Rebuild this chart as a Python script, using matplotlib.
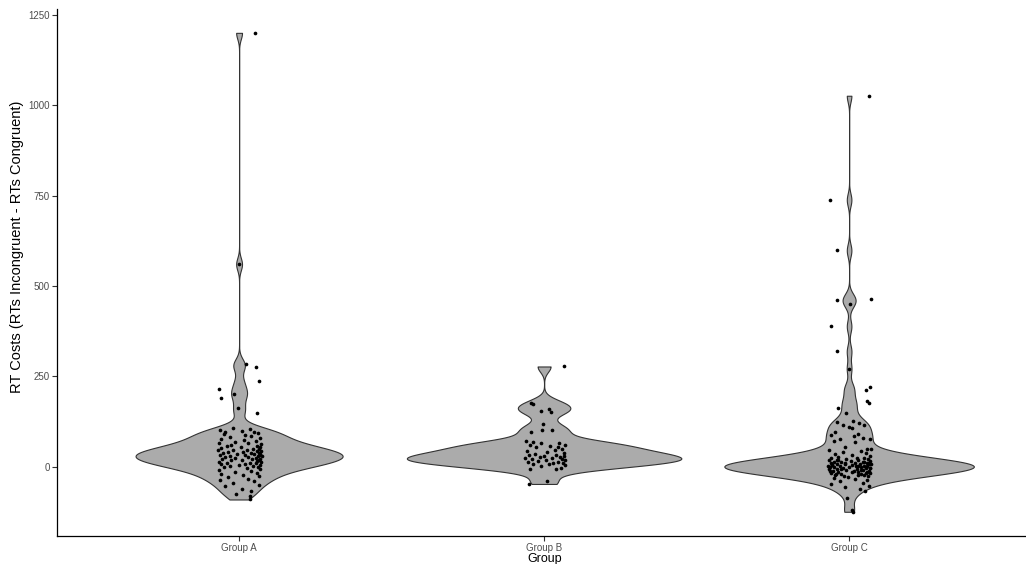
import numpy as np
import matplotlib
matplotlib.use('Agg')
import matplotlib.pyplot as plt

plt.rcParams['font.family'] = ['Liberation Sans', 'DejaVu Sans']

# kategori di sumbu x
groups = ['Group A', 'Group B', 'Group C']

# RT costs per peserta (ms)
rt_a = [1200, 560, 285, 276, 238, 216, 202, 191, 163, 149,
        108, 104, 101, 99, 97, 95, 92, 90, 88,
        85, 82, 78, 76, 73, 70, 68, 66, 64, 62, 61,
        58, 57, 55, 53, 52, 50, 48, 47, 46, 45,
        44, 42, 41, 40, 39, 38, 37, 36, 35, 34,
        33, 32, 31, 30, 29, 28, 27, 26, 25, 24,
        22, 21, 20, 19, 18, 17, 15, 14, 12, 11,
        10, 9, 8, 6, 5, 4, 3, 2, 0,
        -2, -4, -7, -9, -12, -15, -18, -20, -24, -27, -30,
        -33, -37, -41, -45, -50, -55, -62, -68, -75, -80, -91]

rt_b = [277, 176, 174, 160, 153, 152, 119, 102, 100, 95,
        70, 67, 65, 64, 61, 60, 58, 55, 54, 49,
        45, 42, 40, 38, 36, 33, 31, 30, 29, 27,
        26, 24, 23, 22, 20, 19, 17, 15, 14, 12,
        11, 10, 8, 6, 5, 2, -4, -6, -8, -39, -48]

rt_c = [1026, 738, 598, 465, 462, 451, 388, 319, 271, 219, 211, 181, 177, 161, 148,
        127, 124, 121, 116, 115, 109, 107,
        95, 91, 88, 86, 80, 77, 75, 70, 67,
        54, 49, 48, 45, 42, 40, 37, 34, 32, 29, 27, 25, 24, 23, 22, 21,
        19, 18, 17, 16, 15, 14, 13, 12, 11, 10, 10, 9, 8, 7, 6, 6, 5, 4, 3, 3,
        2, 1, 1, 0, 0,
        -1, -2, -3, -4, -5, -6, -7, -8, -9, -10, -11, -12, -13, -14, -15, -16,
        -18, -19, -20, -21, -22, -24, -26, -28,
        -31, -34, -37, -40, -44, -48, -53, -57, -62, -68,
        -88, -119, -125,
        18, 14, 11, 7, 4, 1, -3, -6, -9, -12, -15, -18, -21, -24, -27]

# geseran horizontal titik (jitter)
jit_a = [0.052, 0.0, 0.023, 0.056, 0.066, -0.066, -0.016, -0.059, -0.003, 0.059,
         -0.02, 0.035, -0.064, 0.01, 0.05, -0.045, 0.062, -0.05, 0.02,
         0.04, -0.03, 0.068, -0.058, 0.015, 0.055, -0.012, 0.03, -0.066, 0.072, -0.025,
         0.06, -0.04, 0.07, 0.005, -0.06, 0.045, 0.066, -0.02, 0.025, -0.068,
         0.058, 0.072, -0.035, 0.012, 0.064, -0.052, 0.038, 0.07, -0.008, 0.05,
         -0.062, 0.068, 0.02, -0.03, 0.062, 0.074, -0.045, 0.03, 0.056, -0.015,
         0.07, -0.055, 0.042, 0.065, -0.025, 0.01, 0.06, -0.065, 0.072, 0.035,
         -0.04, 0.055, 0.018, -0.06, 0.068, 0.0, -0.03, 0.045, 0.062,
         -0.05, 0.025, 0.07, -0.066, 0.04, -0.015, 0.058, -0.058, 0.012, 0.066, -0.035,
         0.03, -0.062, 0.05, -0.02, 0.065, -0.045, 0.01, 0.04, -0.01, 0.035, 0.036]

jit_b = [0.066, -0.043, -0.036, 0.016, -0.01, 0.023, -0.003, 0.026, -0.007, -0.043,
         -0.06, -0.035, 0.05, -0.01, -0.045, 0.07, 0.02, 0.045, -0.025, 0.06,
         0.035, -0.055, 0.01, 0.065, -0.03, -0.048, 0.04, 0.0, 0.066, -0.015,
         0.052, -0.062, 0.025, 0.058, -0.04, 0.005, 0.07, -0.02, 0.045, -0.052,
         0.03, 0.062, -0.035, 0.015, 0.068, -0.01, 0.055, -0.045, 0.04, 0.008, -0.05]

jit_c = [0.066, -0.062, -0.039, 0.072, -0.039, 0.003, -0.059, -0.039, 0.0, 0.069,
         0.056, 0.059, 0.066, -0.036, -0.01,
         0.013, -0.039, 0.033, 0.05, -0.02, 0.0, 0.01,
         -0.045, 0.03, -0.06, 0.015, 0.045, -0.03, 0.07, -0.05, 0.02, -0.015, 0.06, 0.072,
         -0.065, 0.04, -0.02, 0.055, -0.045, 0.01, 0.068, -0.035, 0.025, -0.058, 0.05, -0.01,
         0.062, -0.04, 0.03, -0.066, 0.07, 0.005, -0.05, 0.045, -0.025, 0.058,
         -0.06, 0.02, 0.066, -0.04, 0.035, -0.015, 0.072, -0.055, 0.01, 0.05, -0.068,
         0.028, -0.03, 0.06, -0.048, 0.04, 0.0,
         -0.062, 0.055, -0.02, 0.07, -0.04, 0.025, -0.066, 0.045, -0.01, 0.065, -0.052,
         0.015, 0.058, -0.035, 0.03, -0.058, 0.068, -0.025, 0.04, -0.045, 0.05, 0.062, -0.005,
         -0.05, 0.02, 0.06, -0.03, 0.045, -0.06, 0.066, -0.015, 0.035, 0.052,
         -0.007, 0.01, 0.013,
         -0.035, 0.048, -0.012, 0.064, -0.055, 0.022, 0.07, -0.028, 0.04, -0.063,
         0.008, 0.056, -0.042, 0.03, -0.018]

data = [np.array(rt_a, float), np.array(rt_b, float), np.array(rt_c, float)]
jitters = [np.array(jit_a), np.array(jit_b), np.array(jit_c)]


def bw_nrd0(x):
    # bandwidth seperti bw.nrd0 di R
    sd = x.std(ddof=1)
    q75, q25 = np.percentile(x, [75, 25])
    lo = min(sd, (q75 - q25) / 1.34)
    return 0.9 * lo * len(x) ** -0.2


def kde(x, grid):
    bw = bw_nrd0(x)
    z = (grid[:, None] - x[None, :]) / bw
    return np.exp(-0.5 * z ** 2).sum(axis=1) / (len(x) * bw * np.sqrt(2 * np.pi))


# density per grup, dipotong di min/max data (trim)
grids = [np.linspace(d.min(), d.max(), 512) for d in data]
dens = [kde(d, g) for d, g in zip(data, grids)]
max_dens = max(dd.max() for dd in dens)

fig = plt.figure(figsize=(10.26, 5.64), dpi=100)
ax = fig.add_axes([57 / 1026, 28 / 564, 969 / 1026, 527 / 564])

for i, (d, g, dd, jt) in enumerate(zip(data, grids, dens, jitters)):
    pos = i + 1
    half = dd / max_dens * 0.45
    ax.fill_betweenx(g, pos - half, pos + half, facecolor='#ABABAB',
                     edgecolor='#333333', linewidth=0.8, zorder=2)
    ax.scatter(pos + jt, d, s=7, color='black', linewidths=0, zorder=3)

ax.set_xlim(0.403, 3.58)
ax.set_ylim(-192, 1266)
ax.set_xticks([1, 2, 3])
ax.set_xticklabels(groups)
ax.set_yticks([0, 250, 500, 750, 1000, 1250])

for s in ['top', 'right']:
    ax.spines[s].set_visible(False)
for s in ['left', 'bottom']:
    ax.spines[s].set_color('black')
    ax.spines[s].set_linewidth(0.9)

ax.tick_params(axis='both', length=3.5, width=0.8, color='#333333',
               labelsize=7, labelcolor='#4D4D4D', pad=1.5)

ax.set_xlabel('Group', fontsize=9, color='black', va='baseline')
ax.set_ylabel('RT Costs (RTs Incongruent - RTs Congruent)', fontsize=10.5,
              color='black')
ax.xaxis.set_label_coords(0.503, -0.0495)
ax.yaxis.set_label_coords(-0.034, 0.548)

fig.savefig('out.png', dpi=100)
